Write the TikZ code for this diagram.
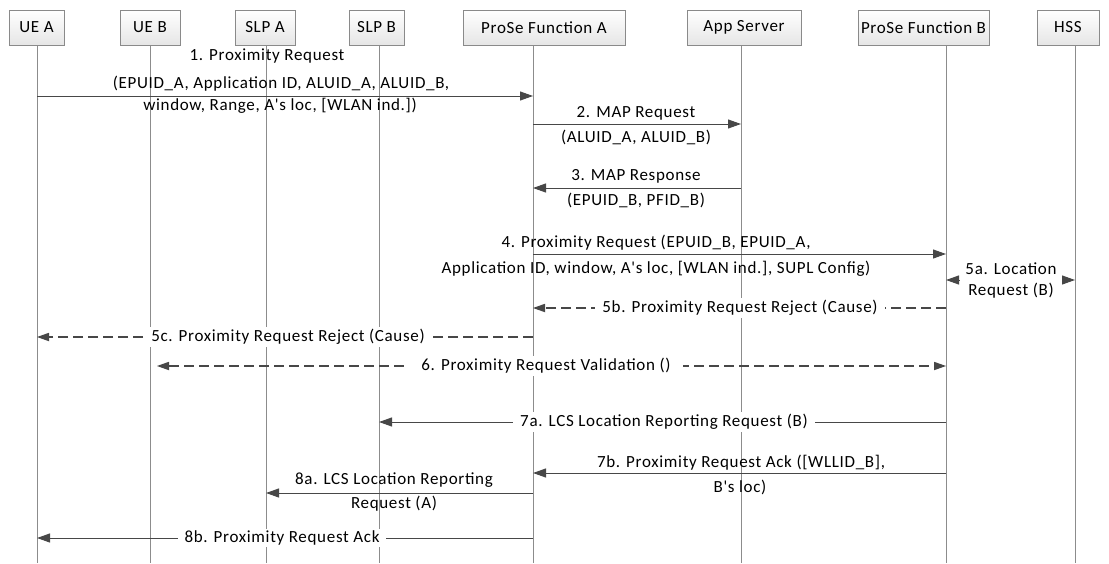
\documentclass[tikz,border=0pt]{standalone}
\usepackage{fontspec}
\setmainfont{Carlito}[Ligatures=TeXOff, LetterSpace=4]
\usetikzlibrary{arrows.meta}
\definecolor{boxgray}{HTML}{8A8A8A}
\definecolor{hdrgray}{HTML}{E6E6E6}
\definecolor{linegray}{HTML}{8C8C8C}
\definecolor{arrgray}{HTML}{474747}
\tikzset{
  actor/.style={draw=boxgray, line width=0.8pt, top color=white, bottom color=hdrgray,
    minimum height=35pt, inner sep=0pt, font=\fontsize{17}{20}\selectfont},
  lifeline/.style={draw=linegray, line width=1pt},
  tip/.tip={Triangle[length=13pt,width=9pt]},
  msg/.style={draw=arrgray, line width=1pt, -tip},
  dmsg/.style={draw=arrgray, line width=2.5pt, dash pattern=on 10pt off 5pt, -{Triangle[length=12pt,width=8.5pt,line width=0pt]}},
  lbl/.style={font=\fontsize{17}{20}\selectfont, inner sep=1pt, align=center, text=black},
  wlbl/.style={lbl, fill=white, inner xsep=7pt, inner ysep=2pt},
}
\begin{document}
\begin{tikzpicture}[x=1pt,y=-1pt]
\useasboundingbox (0,0) rectangle (1109,563);
% lifeline tops
\coordinate (UEA) at (37,45);
\coordinate (UEB) at (150,45);
\coordinate (SLPA) at (266,45);
\coordinate (SLPB) at (379,45);
\coordinate (PFA) at (533,45);
\coordinate (AS) at (741,45);
\coordinate (PFB) at (946,45);
\coordinate (HSS) at (1075,45);
\coordinate (bot) at (0,563);
\foreach \l in {UEA,UEB,SLPA,SLPB,PFA,AS,PFB,HSS}{\draw[lifeline] (\l) -- (\l |- bot);}
% header boxes
\node[actor, minimum width=55pt] (hUEA) at (36.5,27.5) {UE A};
\node[actor, minimum width=60pt] (hUEB) at (150,27.5) {UE B};
\node[actor, minimum width=60pt] (hSLPA) at (265,27.5) {SLP A};
\node[actor, minimum width=55pt] (hSLPB) at (376.5,27.5) {SLP B};
\node[actor, minimum width=162pt] (hPFA) at (544,27.5) {ProSe Function A};
\node[actor, minimum width=114pt] (hAS) at (744,27.5) {App Server};
\node[actor, minimum width=131pt] (hPFB) at (923.5,27.5) {ProSe Function B};
\node[actor, minimum width=62pt] (hHSS) at (1068,27.5) {HSS};
% message rows
\coordinate (y1) at (0,96);
\coordinate (y2) at (0,124);
\coordinate (y3) at (0,188);
\coordinate (y4) at (0,254);
\coordinate (y5a) at (0,280);
\coordinate (y5b) at (0,308);
\coordinate (y5c) at (0,337);
\coordinate (y6) at (0,366);
\coordinate (y7a) at (0,422);
\coordinate (y7b) at (0,473);
\coordinate (y8a) at (0,493);
\coordinate (y8b) at (0,538);
% 1
\draw[msg] (UEA |- y1) -- (PFA |- y1);
\node[lbl] (l1a) at (267,56) {1. Proximity Request};
\node[lbl] (l1b) at (281,84) {(EPUID\_A, Application ID, ALUID\_A, ALUID\_B,};
\node[lbl] (l1c) at (280,106) {window, Range, A's loc, [WLAN ind.])};
% 2
\draw[msg] (PFA |- y2) -- (AS |- y2);
\node[lbl] (l2a) at (636,113) {2. MAP Request};
\node[lbl] (l2b) at (636,137) {(ALUID\_A, ALUID\_B)};
% 3
\draw[msg] (AS |- y3) -- (PFA |- y3);
\node[lbl] (l3a) at (636,176) {3. MAP Response};
\node[lbl] (l3b) at (636,200) {(EPUID\_B, PFID\_B)};
% 4
\draw[msg] (PFA |- y4) -- (PFB |- y4);
\node[lbl] (l4a) at (656,243) {4. Proximity Request (EPUID\_B, EPUID\_A,};
\node[lbl] (l4b) at (656,269) {Application ID, window, A's loc, [WLAN ind.], SUPL Config)};
% 5a
\draw[msg, tip-tip] (PFB |- y5a) -- (HSS |- y5a);
\node[wlbl, inner xsep=5pt] (l5a) at (1011,280) {5a. Location\\[1pt]Request (B)};
% 5b
\draw[dmsg] (PFB |- y5b) -- (PFA |- y5b);
\node[wlbl] (l5b) at (740,308) {5b. Proximity Request Reject (Cause)};
% 5c
\draw[dmsg] (PFA |- y5c) -- (UEA |- y5c);
\node[wlbl] (l5c) at (288,337) {5c. Proximity Request Reject (Cause)};
% 6
\draw[dmsg, {Triangle[length=12pt,width=8.5pt,line width=0pt]}-{Triangle[length=12pt,width=8.5pt,line width=0pt]}, shorten <=7pt] (UEB |- y6) -- (PFB |- y6);
\node[wlbl, inner xsep=12pt] (l6) at (546,366) {6. Proximity Request Validation ()};
% 7a
\draw[msg] (PFB |- y7a) -- (SLPB |- y7a);
\node[wlbl] (l7a) at (664,422) {7a. LCS Location Reporting Request (B)};
% 7b
\draw[msg] (PFB |- y7b) -- (PFA |- y7b);
\node[lbl] (l7ba) at (741,463) {7b. Proximity Request Ack ([WLLID\_B],};
\node[lbl] (l7bb) at (740,487) {B's loc)};
% 8a
\draw[msg] (PFA |- y8a) -- (SLPA |- y8a);
\node[lbl] (l8aa) at (394,480) {8a. LCS Location Reporting};
\node[lbl] (l8ab) at (394,504) {Request (A)};
% 8b
\draw[msg] (PFA |- y8b) -- (UEA |- y8b);
\node[wlbl] (l8b) at (282,538) {8b. Proximity Request Ack};
\end{tikzpicture}
\end{document}
